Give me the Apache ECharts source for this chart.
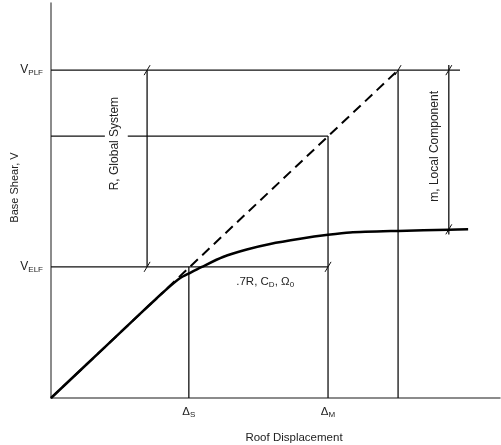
<!DOCTYPE html>
<html><head><meta charset="utf-8">
<script src="https://cdn.jsdelivr.net/npm/echarts@6/dist/echarts.min.js"></script>
<style>html,body{margin:0;padding:0;background:#fff}#c{width:501px;height:445px}</style>
</head><body><div id="c"></div>
<script>
// Key levels (data units, axis 0..100)
const V_PLF = 83.0, V_ELF = 33.2, V_MID = 66.3, V_CURVE = 42.7;
const X_R = 21.4, X_S = 30.7, X_M = 61.7, X_Y = 77.3, X_LOC = 88.6, X_END = 91.1;

// Elastic (dashed) line and pushover capacity curve
const elasticLine = [[0, 0], [X_Y, V_PLF]];
const capacityCurve = [[0,0],[12.0,12.9],[20.0,21.5],[23.5,25.2],[25.8,27.6],[28.7,30.3],[31.0,31.7],[33.6,33.2],[38.3,35.7],[43.6,37.6],[48.8,39.0],[55.5,40.3],[61.7,41.3],[66.6,41.9],[77.3,42.3],[88.6,42.6],[92.9,42.7]];

// Reference segments [x1, y1, x2, y2]
const segments = [
  [0, V_PLF, X_END, V_PLF],
  [0, V_MID, 12.0, V_MID], [17.1, V_MID, X_M, V_MID],
  [0, V_ELF, X_M, V_ELF],
  [X_R, V_ELF, X_R, V_PLF],
  [X_S, 0, X_S, V_ELF],
  [X_M, 0, X_M, V_MID],
  [X_Y, 0, X_Y, V_PLF],
  [X_LOC, 41.4, X_LOC, 84.3]
];
// Slash tick marks
const slashes = [[X_R, V_PLF], [X_Y, V_PLF], [X_LOC, V_PLF], [X_R, V_ELF], [X_M, V_ELF], [X_LOC, V_CURVE]];

// Text labels [x, y, text, kind]
const labels = [
  [0, V_PLF, 'V{s|PLF}', 'yl'],
  [0, V_ELF, 'V{s|ELF}', 'yl'],
  [X_S, 0, 'Δ{s|S}', 'xl'],
  [X_M, 0, 'Δ{s|M}', 'xl'],
  [47.7, 29.4, '.7R, C{s|D}, Ω{s|0}', 'c'],
  [14.2, 64.4, 'R, Global System', 'v'],
  [85.5, 63.7, 'm, Local Component', 'v']
];

const FONT = '"Liberation Sans", Arial, sans-serif';
const rich = {
  s: {fontSize: 8, fontFamily: FONT, verticalAlign: 'bottom', padding: [5, 0, 0, 0]}
};

const chart = echarts.init(document.getElementById('c'), null, {renderer: 'canvas'});
chart.setOption({
  animation: false,
  grid: {left: 51, right: 1, top: 3, bottom: 47, containLabel: false, outerBoundsMode: 'none'},
  xAxis: {
    type: 'value', min: 0, max: 100,
    axisLine: {show: true, onZero: false, lineStyle: {color: '#666', width: 1.5}},
    axisTick: {show: false}, axisLabel: {show: false}, splitLine: {show: false},
    name: 'Roof Displacement', nameLocation: 'middle', nameGap: 34,
    nameTextStyle: {fontSize: 11.5, fontFamily: FONT, color: '#222', padding: [0, 0, 0, 37]}
  },
  yAxis: {
    type: 'value', min: 0, max: 100,
    axisLine: {show: true, onZero: false, lineStyle: {color: '#666', width: 1.5}},
    axisTick: {show: false}, axisLabel: {show: false}, splitLine: {show: false},
    name: 'Base Shear, V', nameLocation: 'middle', nameGap: 31,
    nameTextStyle: {fontSize: 11, fontFamily: FONT, color: '#222', padding: [0, 0, 0, 26]}
  },
  series: [
    {
      type: 'custom', coordinateSystem: 'cartesian2d', data: segments, silent: true,
      encode: {x: [0, 2], y: [1, 3]},
      renderItem: (p, api) => {
        const a = api.coord([api.value(0), api.value(1)]);
        const b = api.coord([api.value(2), api.value(3)]);
        return {type: 'line', shape: {x1: a[0], y1: a[1], x2: b[0], y2: b[1]},
          style: {stroke: '#111', lineWidth: 1.3}};
      }
    },
    {
      type: 'custom', coordinateSystem: 'cartesian2d', data: slashes, silent: true,
      renderItem: (p, api) => {
        const c = api.coord([api.value(0), api.value(1)]);
        return {type: 'line', shape: {x1: c[0] - 3, y1: c[1] + 5, x2: c[0] + 3, y2: c[1] - 5},
          style: {stroke: '#111', lineWidth: 1}};
      }
    },
    {
      type: 'line', data: elasticLine, symbol: 'none', silent: true,
      lineStyle: {color: '#000', width: 2, type: [10, 6]}
    },
    {
      type: 'line', data: capacityCurve, symbol: 'none', smooth: 0.25, silent: true,
      lineStyle: {color: '#000', width: 2.5}
    },
    {
      type: 'custom', coordinateSystem: 'cartesian2d', data: labels, silent: true,
      renderItem: (p, api) => {
        const d = labels[p.dataIndex];
        const c = api.coord([d[0], d[1]]);
        const kind = d[3];
        let el = {type: 'text', x: c[0], y: c[1], style: {text: d[2], rich: rich,
          fontSize: 11.5, fontFamily: FONT, fill: '#222', align: 'center', verticalAlign: 'middle'}};
        if (kind === 'yl') { el.x = c[0] - 8; el.style.align = 'right'; el.style.fontSize = 12; }
        if (kind === 'xl') { el.y = c[1] + 14; }
        if (kind === 'v') { el.rotation = Math.PI / 2; el.style.fontSize = 12; }
        return el;
      }
    }
  ]
});
</script></body></html>
